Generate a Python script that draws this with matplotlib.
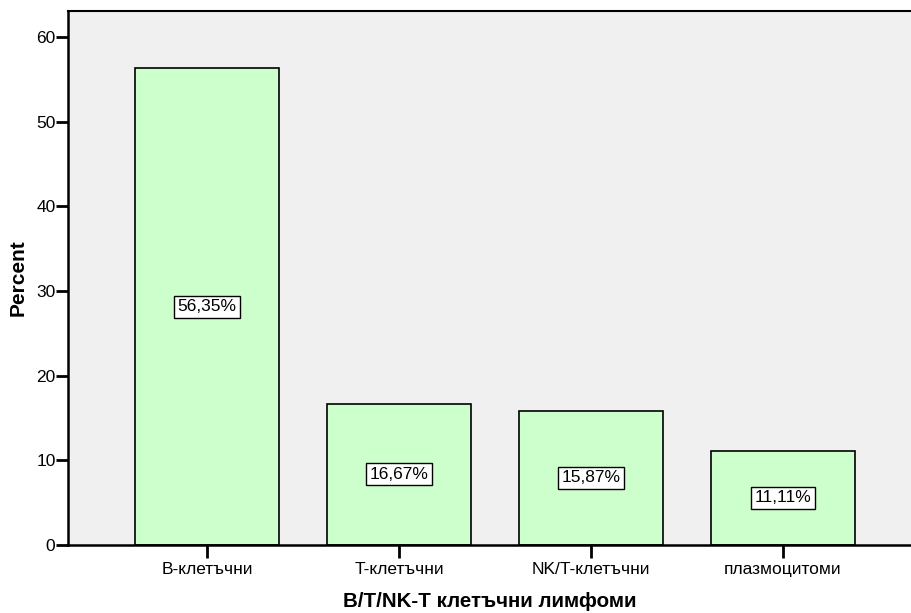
import numpy as np
import matplotlib.pyplot as plt

plt.rcParams['font.family'] = ['Liberation Sans', 'DejaVu Sans']

categories = ['B-клетъчни', 'T-клетъчни', 'NK/T-клетъчни', 'плазмоцитоми']
percent = [56.35, 16.67, 15.87, 11.11]
labels = ['56,35%', '16,67%', '15,87%', '11,11%']

fig = plt.figure(figsize=(9.11, 6.13), dpi=100)
ax = fig.add_axes([68/911, 1-545/613, (911-68)/911, (545-11)/613])
ax.set_facecolor('#f0f0f0')

x = np.arange(len(categories))
ax.bar(x, percent, width=0.75, color='#ccffcc', edgecolor='black', linewidth=1.2, zorder=2)

# value boxes at half bar height
for xi, v, lab in zip(x, percent, labels):
	ax.text(xi, v/2, lab, ha='center', va='center', fontsize=12.5, zorder=3,
		bbox=dict(boxstyle='square,pad=0.2', facecolor='white', edgecolor='black', linewidth=1))

ax.set_xlim(-0.724, 3.667)
ax.set_ylim(0, 63.1)
ax.set_yticks(range(0, 61, 10))
ax.set_xticks(x)
ax.set_xticklabels(categories, fontsize=12.5)
ax.tick_params(axis='y', labelsize=12.5, length=9, width=2, pad=0)
ax.tick_params(axis='x', length=9, width=2, pad=3)

for side in ['left', 'bottom']:
	ax.spines[side].set_linewidth(1.8)
ax.spines['top'].set_linewidth(1.5)
ax.spines['right'].set_visible(False)

ax.set_ylabel('Percent', fontsize=15, fontweight='bold', labelpad=6)
ax.set_xlabel('B/T/NK-T клетъчни лимфоми', fontsize=14.8, fontweight='bold', labelpad=11)

fig.savefig('out.png', dpi=100)
